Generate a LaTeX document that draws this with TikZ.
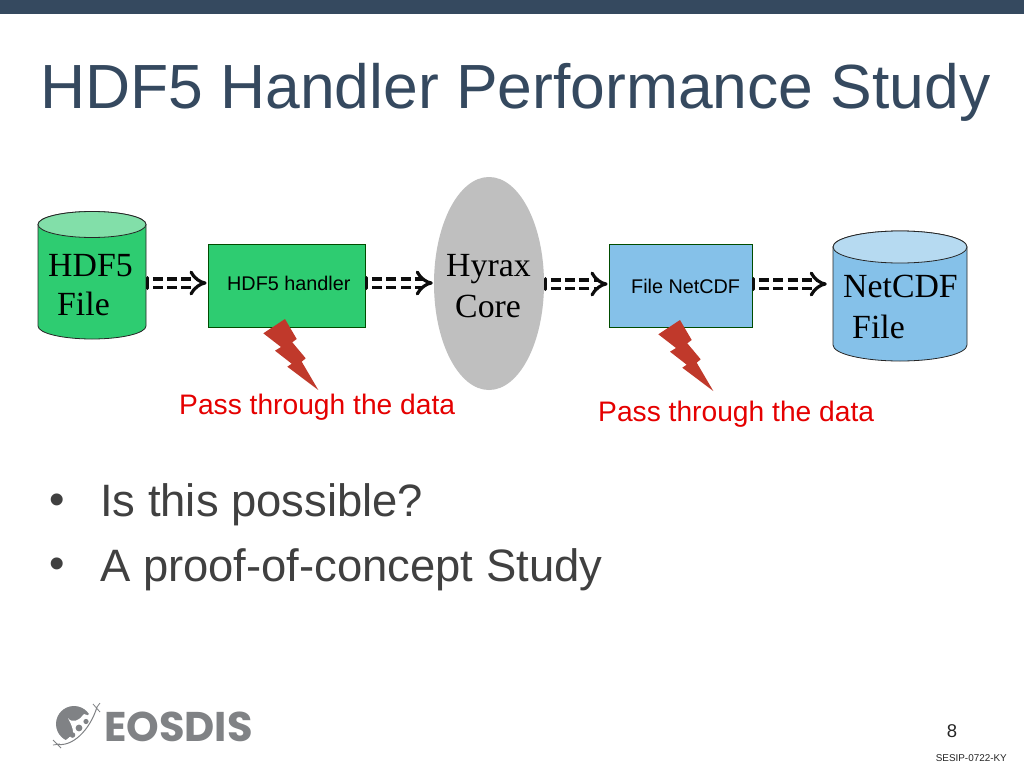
\documentclass[tikz,border=0pt]{standalone}
\usepackage{fontspec}
\setmainfont{Liberation Sans}
\newfontfamily\serifx{Liberation Serif}
\newfontfamily\logofont{Poppins}
\usetikzlibrary{shapes.geometric,arrows.meta}
\definecolor{band}{HTML}{35495F}
\definecolor{titlec}{HTML}{35495F}
\definecolor{greenf}{HTML}{2ECC71}
\definecolor{greent}{HTML}{82DFA9}
\definecolor{bluef}{HTML}{85C1E9}
\definecolor{bluet}{HTML}{B6DAF1}
\definecolor{boltc}{HTML}{C0392B}
\definecolor{logoc}{HTML}{808285}
\definecolor{bodyc}{HTML}{404040}
\tikzset{
 x=1pt,y=-1pt,
 box/.style={draw=black!70!green,line width=.8pt,minimum height=83pt,inner sep=0pt},
 canbox/.style={rectangle,draw=none,inner sep=0pt},
 canline/.style={draw=black!85,line width=.8pt},
 serift/.style={font=\serifx\fontsize{33.8}{40}\selectfont,inner sep=0pt,anchor=base west},
 smallt/.style={inner sep=0pt,anchor=base west,font=\fontsize{19.8}{22}\selectfont},
 flow/.style={draw=black!95,line width=3.2pt,double=white,double distance=5pt,dash pattern=on 10pt off 4.3pt,dash phase=10pt,{Bar[width=11pt,line width=3pt,round]}-{Implies[round]}},
 redt/.style={text=red!90!black,font=\fontsize{28.2}{32}\selectfont,inner sep=0pt,anchor=base west},
 bullet/.style={text=bodyc,font=\fontsize{45.4}{52}\selectfont,inner sep=0pt,anchor=base west},
 bolt/.style={fill=boltc,draw=none},
}
\newcommand{\boltshape}{(285,319) -- (296.7,339) -- (292.3,342.3) -- (305.7,358.3) -- (301.7,361.7) -- (318.3,390) -- (287.3,366.7) -- (291.7,363.7) -- (275,350.7) -- (281,347) -- (263.3,333.3) -- cycle}
\begin{document}
\begin{tikzpicture}
\useasboundingbox (0,0) rectangle (1024,768);
\fill[white] (0,0) rectangle (1024,768);
\fill[band] (0,0) rectangle (1024,14);
\node[text=titlec,font=\fontsize{62.4}{70}\selectfont,inner sep=0pt,anchor=base west] (title) at (40,108) {HDF5 Handler Performance Study};

% HDF5 cylinder
\node[canbox,minimum width=108pt,minimum height=128pt] (hdf) at (92,275.5) {};
\path[canline,fill=greenf] (38,224.5) -- (38,326) arc[start angle=180,end angle=360,x radius=54,y radius=-13] -- (146,224.5) arc[start angle=0,end angle=180,x radius=54,y radius=-13] -- cycle;
\path[canline,fill=greent] (92,224.5) ellipse[x radius=54,y radius=13];
\node[box,fill=greenf,minimum width=157pt] (handler) at (286.5,285.5) {};
\node[fill=black!25,draw=none,ellipse,minimum width=110pt,minimum height=213pt,inner sep=0pt] (core) at (489,283.5) {};
\node[box,fill=bluef,minimum width=143pt] (netbox) at (680.5,285.5) {};
% NetCDF cylinder
\node[canbox,minimum width=134pt,minimum height=130pt] (net) at (900,296) {};
\path[canline,fill=bluef] (833,247) -- (833,345) arc[start angle=180,end angle=360,x radius=67,y radius=-16] -- (967,247) arc[start angle=0,end angle=180,x radius=67,y radius=-16] -- cycle;
\path[canline,fill=bluet] (900,247) ellipse[x radius=67,y radius=16];

\node[serift] (t1) at (48,276) {HDF5};
\node[serift] (t2) at (57,315) {File};
\node[serift] (t3) at (446,276) {Hyrax};
\node[serift] (t4) at (455,317) {Core};
\node[serift] (t5) at (843,297) {NetCDF};
\node[serift] (t6) at (852,338) {File};
\node[smallt] (t7) at (227,290) {HDF5 handler};
\node[smallt] (t8) at (631,293) {File NetCDF};

\draw[flow] (hdf.east |- 0,283) -- ([xshift=-1pt]handler.west |- 0,283);
\draw[flow] (handler.east |- 0,283) -- ([xshift=-1pt]core.west |- 0,283);
\draw[flow] (core.east |- 0,284) -- ([xshift=-1pt]netbox.west |- 0,284);
\draw[flow] (netbox.east |- 0,284) -- ([xshift=-6pt]net.west |- 0,284);

\fill[bolt] \boltshape;
\begin{scope}[shift={(395,1)}]
\fill[bolt] \boltshape;
\end{scope}

\node[redt] (p1) at (179,414) {Pass through the data};
\node[redt] (p2) at (598,421) {Pass through the data};

\node[bullet,font=\fontsize{44}{50}\selectfont] (b1) at (49,514.5) {•};
\node[bullet] (b1t) at (100,516) {Is this possible?};
\node[bullet,font=\fontsize{44}{50}\selectfont] (b2) at (49,578) {•};
\node[bullet] (b2t) at (100,581) {A proof-of-concept Study};

% logo
\begin{scope}
\clip (56,706) -- (94,706) -- (86,719) .. controls (78,730) and (70,738) .. (60,744) -- (50,744) -- cycle;
\fill[logoc] (74,724) circle (18);
\end{scope}
\fill[white] (68,718) .. controls (72,726) and (76,734) .. (70,738) .. controls (76,736) and (84,728) .. (90,716) -- (84,714) .. controls (80,720) and (72,724) .. (68,718) -- cycle;
\draw[white,line width=1.4pt] (92,706) .. controls (90,718) and (80,730) .. (66,741);
\draw[logoc,line width=1pt] (56,744) .. controls (72,748) and (90,730) .. (97,707);
\draw[logoc,line width=.8pt] (53,740) -- (61,748) (93,704) -- (100,712) (60,744) -- (53,745) (97,707) -- (100,703);
\fill[logoc] (72.5,735) circle (2.8) (79,728) circle (3.4) (86,721.5) circle (2.6);
\node[text=logoc,font=\logofont\bfseries\fontsize{41.5}{44}\selectfont,inner sep=0pt,anchor=base west] (logo) at (104,741) {EOSDIS};

\node[inner sep=0pt,anchor=base,font=\fontsize{18.5}{22}\selectfont,text=black!85] (page) at (952,737) {8};
\node[inner sep=0pt,anchor=base east,font=\fontsize{9.9}{13}\selectfont,text=black!85] (code) at (1007,761) {SESIP-0722-KY};
\end{tikzpicture}
\end{document}
